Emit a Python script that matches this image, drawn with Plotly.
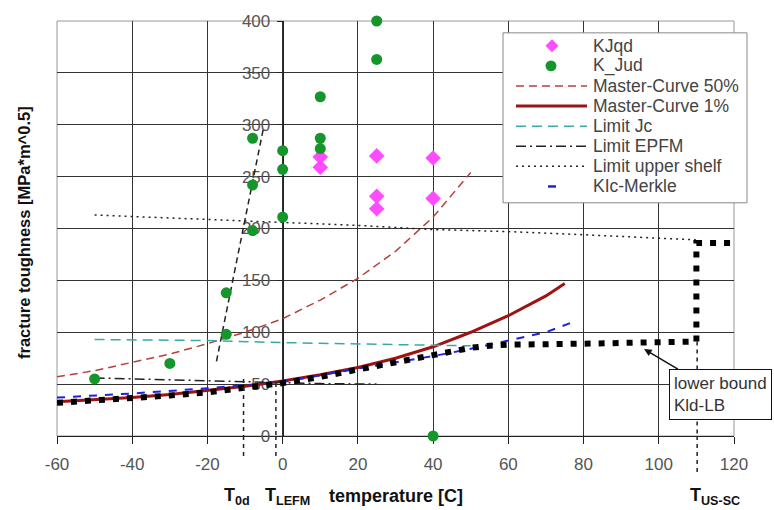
import plotly.graph_objects as go

# ---------------- data ----------------
kjqd_T = [10, 10, 25, 25, 25, 40, 40]
kjqd_K = [269, 259, 270, 231, 219, 268, 229]

kjud_T = [-50, -30, -15, -15, -8, -8, -8, 0, 0, 0, 10, 10, 10, 25, 25, 40]
kjud_K = [55, 70, 138, 98, 287, 242, 198, 275, 257, 211, 327, 287, 277, 400, 363, 0]

mc50_T = [-60, -50, -40, -30, -20, -10, 0, 10, 20, 30, 40, 50]
mc50_K = [57, 63, 71, 79, 89, 100, 113, 131, 152, 178, 211, 254]

mc1_T = [-60, -50, -40, -30, -20, -10, 0, 10, 20, 30, 40, 50, 60, 70, 75]
mc1_K = [33, 35, 37, 40, 44, 48, 53, 59, 66, 75, 86, 100, 116, 135, 147]

jc_T = [-50, -20, 0, 20, 40, 50]
jc_K = [93, 92, 90, 88.5, 87.5, 87]

epfm_T = [-50, -30, -10, 10, 25]
epfm_K = [56, 54, 52, 50.5, 50]

shelf_T = [-50, 0, 20, 40, 60, 80, 110]
shelf_K = [213, 206, 203, 199, 197, 194, 189]

merkle_T = [-60, -40, -20, 0, 20, 40, 50, 60, 70, 78]
merkle_K = [37, 41, 46, 52, 65, 77, 84, 92, 100, 111]

kld_T = [-60, -50, -40, -30, -20, -10, 0, 10, 20, 30, 40, 50, 55, 60, 80, 100, 110, 110, 124]
kld_K = [32, 34, 36, 39, 42, 46, 51, 57, 64, 71, 78, 85, 87, 88, 89, 90, 91, 186, 186]

trend_T = [-17.6, -5.1]
trend_K = [72, 297]

x_ticks = [-60, -40, -20, 0, 20, 40, 60, 80, 100, 120]
x_labels = ["-60", "-40", "-20", "0", "20", "40", "60", "80", "100", "120"]
y_ticks = [0, 50, 100, 150, 200, 250, 300, 350, 400]

legend_labels = ["KJqd", "K_Jud", "Master-Curve 50%", "Master-Curve 1%", "Limit Jc",
                 "Limit EPFM", "Limit upper shelf", "KIc-Merkle"]

T0d, T_LEFM, T_USSC = -10.4, -1.8, 110.2

FONT = "Liberation Sans, Arial, sans-serif"

# styles
ST = {
    "Master-Curve 50%": dict(color="#b4413c", width=1.5, dash="8px,5px"),
    "Master-Curve 1%": dict(color="#a01212", width=3),
    "Limit Jc": dict(color="#3aa8a8", width=1.5, dash="10px,6px"),
    "Limit EPFM": dict(color="#222222", width=1.5, dash="10px,4px,2px,4px"),
    "Limit upper shelf": dict(color="#222222", width=1.5, dash="2px,4px"),
    "KIc-Merkle": dict(color="#2020e0", width=2, dash="8px,8px"),
}
MAGENTA = "#ff4cff"
GREEN = "#15962b"

fig = go.Figure()

fig.add_trace(go.Scatter(x=mc50_T, y=mc50_K, mode="lines", name="Master-Curve 50%", line=ST["Master-Curve 50%"]))
fig.add_trace(go.Scatter(x=mc1_T, y=mc1_K, mode="lines", name="Master-Curve 1%", line=ST["Master-Curve 1%"]))
fig.add_trace(go.Scatter(x=jc_T, y=jc_K, mode="lines", name="Limit Jc", line=ST["Limit Jc"]))
fig.add_trace(go.Scatter(x=epfm_T, y=epfm_K, mode="lines", name="Limit EPFM", line=ST["Limit EPFM"]))
fig.add_trace(go.Scatter(x=shelf_T, y=shelf_K, mode="lines", name="Limit upper shelf", line=ST["Limit upper shelf"]))
fig.add_trace(go.Scatter(x=merkle_T, y=merkle_K, mode="lines", name="KIc-Merkle", line=ST["KIc-Merkle"]))
fig.add_trace(go.Scatter(x=kld_T, y=kld_K, mode="lines", name="Kld-LB",
                         line=dict(color="black", width=6, dash="6px,8px")))
fig.add_trace(go.Scatter(x=trend_T, y=trend_K, mode="lines", name="trend",
                         line=dict(color="#222222", width=1.5, dash="6px,4px")))
fig.add_trace(go.Scatter(x=kjqd_T, y=kjqd_K, mode="markers", name="KJqd", cliponaxis=False,
                         marker=dict(symbol="diamond", size=12, color=MAGENTA)))
fig.add_trace(go.Scatter(x=kjud_T, y=kjud_K, mode="markers", name="K_Jud", cliponaxis=False,
                         marker=dict(symbol="circle", size=11, color=GREEN)))

# vertical reference lines (extend below the axis)
for xv, ytop, ybot in [(T0d, 55, -0.055), (T_LEFM, 51, -0.055), (T_USSC, 91, -0.093)]:
    fig.add_shape(type="line", xref="x", yref="y", x0=xv, x1=xv, y0=ytop, y1=0,
                  line=dict(color="#222222", width=1.5, dash="4px,4px"))
    fig.add_shape(type="line", xref="x", yref="paper", x0=xv, x1=xv, y0=0, y1=ybot,
                  line=dict(color="#222222", width=1.5, dash="4px,4px"))

# plot frame
fig.add_shape(type="rect", xref="paper", yref="paper", x0=0, x1=1, y0=0, y1=1,
              line=dict(color="#999999", width=1), layer="below")

# ---------- custom legend (pixel layout converted to paper) ----------
L, R, T, B = 57, 734, 16, 436
W, H = R - L, B - T
def px(xp):
    return (xp - L) / W
def py(yp):
    return (B - yp) / H

fig.add_shape(type="rect", xref="paper", yref="paper", x0=px(503), x1=px(747),
              y0=py(200), y1=py(28), line=dict(color="#888888", width=1),
              fillcolor="white", layer="above")
for i, lab in enumerate(legend_labels):
    yc = 41 + 20.35 * i
    if lab == "KJqd":
        s = 6.5
        path = "M {a},{b} L {c},{d} L {a},{e} L {f},{d} Z".format(
            a=px(552), b=py(yc - s), c=px(552 + s), d=py(yc), e=py(yc + s), f=px(552 - s))
        fig.add_shape(type="path", xref="paper", yref="paper", path=path,
                      fillcolor=MAGENTA, line=dict(width=0), layer="above")
    elif lab == "K_Jud":
        r = 5.5
        fig.add_shape(type="circle", xref="paper", yref="paper",
                      x0=px(551 - r), x1=px(551 + r), y0=py(yc + r), y1=py(yc - r),
                      fillcolor=GREEN, line=dict(width=0), layer="above")
    elif lab == "KIc-Merkle":
        fig.add_shape(type="line", xref="paper", yref="paper", x0=px(548), x1=px(556),
                      y0=py(yc), y1=py(yc), line=dict(color=ST[lab]["color"], width=2.5),
                      layer="above")
    else:
        fig.add_shape(type="line", xref="paper", yref="paper", x0=px(516), x1=px(587),
                      y0=py(yc), y1=py(yc), line=ST[lab], layer="above")
    fig.add_annotation(x=px(591), y=py(yc), xref="paper", yref="paper", showarrow=False,
                       text=lab, xanchor="left", yanchor="middle",
                       font=dict(family=FONT, size=17.5, color="#444444"))

# axis-title annotations
fig.add_annotation(x=-0.066, y=0.49, xref="paper", yref="paper", showarrow=False,
                   text="<b>fracture toughness [MPa*m^0.5]</b>", textangle=-90,
                   font=dict(family=FONT, size=16.5, color="#111111"))
for xv, txt in [(-12.2, "T<sub>0d</sub>"), (1.3, "T<sub>LEFM</sub>"),
                (30, "temperature [C]"), (115, "T<sub>US-SC</sub>")]:
    fig.add_annotation(x=xv, y=-0.145, xref="x", yref="paper", showarrow=False,
                       text="<b>" + txt + "</b>", yanchor="middle",
                       font=dict(family=FONT, size=18, color="#111111"))

# lower bound annotation
fig.add_annotation(x=96.1, y=83.8, xref="x", yref="y", ax=76, ay=45,
                   text="lower bound<br>Kld-LB", align="left", showarrow=True,
                   arrowhead=2, arrowsize=1, arrowwidth=1.5, arrowcolor="#111111",
                   bordercolor="#111111", borderwidth=1, borderpad=4, bgcolor="white",
                   font=dict(family=FONT, size=17, color="#333333"))

fig.update_layout(
    width=774, height=510,
    margin=dict(l=L, r=774 - R, t=T, b=510 - B),
    paper_bgcolor="white", plot_bgcolor="white",
    font=dict(family=FONT, size=17, color="#444444"),
    showlegend=False,
    xaxis=dict(range=[-60, 120], tickvals=x_ticks, ticktext=x_labels,
               showgrid=True, gridcolor="#333333",
               gridwidth=1, zeroline=False, showline=True, linecolor="#222222",
               ticks="outside", ticklen=7, tickcolor="#222222", layer="below traces",
               ticklabelstandoff=6, tickfont=dict(size=17, color="#555555")),
    yaxis=dict(range=[0, 400], tickvals=y_ticks, showgrid=True, gridcolor="#333333",
               gridwidth=1, zeroline=False, showline=True, linecolor="#222222",
               anchor="free", position=1/3, ticks="outside", ticklen=6,
               tickcolor="#222222", layer="below traces", ticklabelstandoff=3,
               tickfont=dict(size=17, color="#555555")),
)

fig.write_html("out.html")
